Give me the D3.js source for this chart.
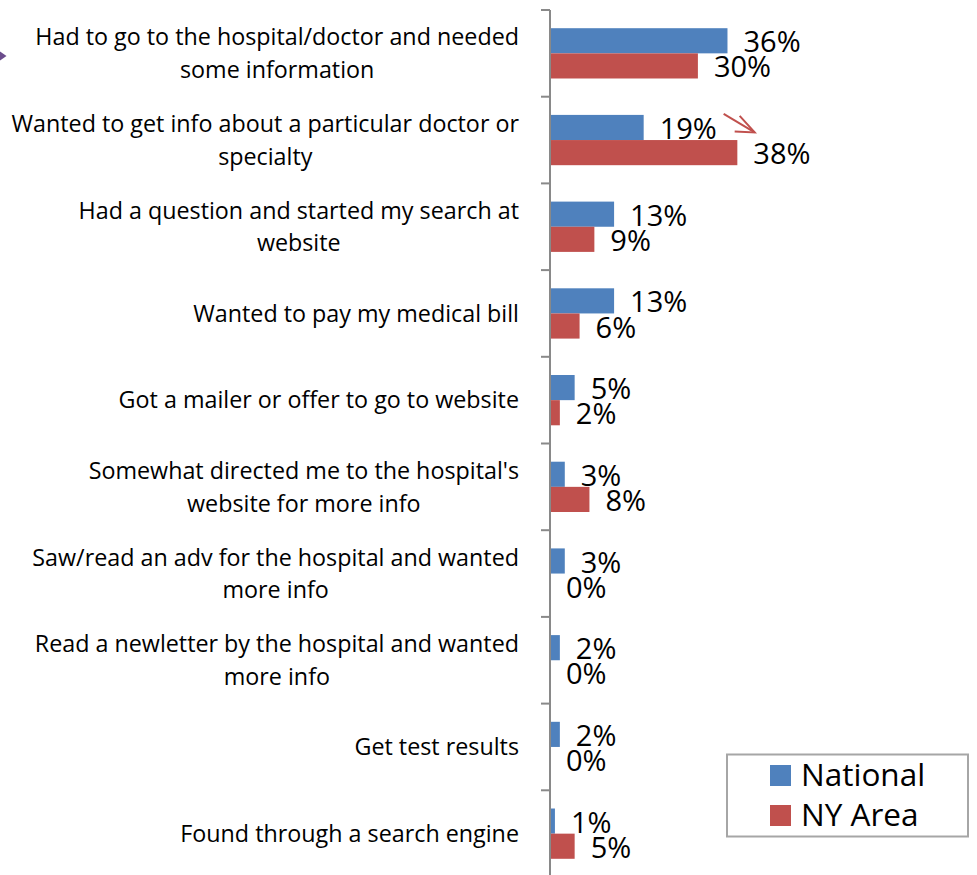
<!DOCTYPE html>
<html>
<head>
<meta charset="utf-8">
<script src="https://cdn.jsdelivr.net/npm/d3@7"></script>
<style>
  body { margin: 0; background: #fff; }
  svg { display: block; font-family: "Open Sans", sans-serif; }
</style>
</head>
<body>
<svg id="chart" width="977" height="875"></svg>
<script>
// categories, top to bottom (line breaks as in the original)
var categories = [
  "Had to go to the hospital/doctor and needed\nsome information",
  "Wanted to get info about a particular doctor or\nspecialty",
  "Had a question and started my search at\nwebsite",
  "Wanted to pay my medical bill",
  "Got a mailer or offer to go to website",
  "Somewhat directed me to the hospital's\nwebsite for more info",
  "Saw/read an adv for the hospital and wanted\nmore info",
  "Read a newletter by the hospital and wanted\nmore info",
  "Get test results",
  "Found through a search engine"
];
var national = [36, 19, 13, 13, 5, 3, 3, 2, 2, 1];
var nyArea   = [30, 38, 9, 6, 2, 8, 0, 0, 0, 5];
var seriesNames = ["National", "NY Area"];
var colors = ["#4f81bd", "#c0504d"];

var svg = d3.select("#chart");

var x = d3.scaleLinear().domain([0, 40]).range([550, 747.2]);
var y = d3.scaleBand()
  .domain(d3.range(categories.length))
  .range([10, 877])
  .paddingInner(0.42)
  .paddingOuter(0.21);
var bh = y.bandwidth() / 2;

// vertical axis with ticks between categories
var axisG = svg.append("g");
axisG.append("line")
  .attr("x1", x(0)).attr("x2", x(0))
  .attr("y1", 10).attr("y2", 877)
  .attr("stroke", "#898989").attr("stroke-width", 2);
var step = y.step();
axisG.selectAll(".tick")
  .data(d3.range(categories.length + 1))
  .enter().append("line")
  .attr("x1", x(0) - 9).attr("x2", x(0))
  .attr("y1", function(i) { return 10 + i * step; })
  .attr("y2", function(i) { return 10 + i * step; })
  .attr("stroke", "#898989").attr("stroke-width", 2);

// category labels: lines centered, block right-aligned
var labelRight = 519;
categories.forEach(function(c, i) {
  var lines = c.split("\n");
  var cy = y(i) + y.bandwidth() / 2;
  var lh = 32.7;
  var g = svg.append("g");
  var texts = lines.map(function(l, j) {
    return g.append("text")
      .attr("y", cy + 8.3 + (j - (lines.length - 1) / 2) * lh)
      .attr("font-size", "23.3px")
      .attr("fill", "#000")
      .attr("text-anchor", "middle")
      .text(l);
  });
  var w = d3.max(texts, function(t) { return t.node().getComputedTextLength(); });
  texts.forEach(function(t) { t.attr("x", labelRight - w / 2); });
});

// bars
var series = [national, nyArea];
series.forEach(function(vals, s) {
  svg.append("g").selectAll("rect")
    .data(vals)
    .enter().append("rect")
    .attr("x", x(0) + 1)
    .attr("y", function(d, i) { return y(i) + s * bh; })
    .attr("width", function(d) { return Math.max(0, x(d) - x(0) - 1); })
    .attr("height", bh)
    .attr("fill", colors[s]);

  svg.append("g").selectAll("text")
    .data(vals)
    .enter().append("text")
    .attr("x", function(d) { return x(d) + 16; })
    .attr("y", function(d, i) { return y(i) + (s + 1) * bh - 1; })
    .attr("font-size", "29px")
    .attr("fill", "#000")
    .text(function(d) { return d + "%"; });
});

// small purple arrowhead at the left edge
svg.append("path")
  .attr("d", "M0,51.5L6.5,56L0,60.5Z")
  .attr("fill", "#6b4c8c");

// red annotation arrow next to the 19% / 38% pair
var ax = x(national[1]) + 80, ay = y(1) - 1;
var arrow = svg.append("g")
  .attr("stroke", "#c0504d").attr("stroke-width", 2).attr("fill", "none");
arrow.append("line")
  .attr("x1", ax).attr("y1", ay)
  .attr("x2", ax + 31).attr("y2", ay + 18.5);
arrow.append("path")
  .attr("d", "M" + (ax + 16) + "," + (ay + 2) + "L" + (ax + 31) + "," + (ay + 18.5) +
             "L" + (ax + 11) + "," + (ay + 17.5));

// legend
var lg = svg.append("g");
lg.append("rect")
  .attr("x", 727).attr("y", 754.5)
  .attr("width", 241).attr("height", 82)
  .attr("fill", "#fff").attr("stroke", "#a6a6a6").attr("stroke-width", 2);
seriesNames.forEach(function(n, i) {
  lg.append("rect")
    .attr("x", 770).attr("y", 765 + i * 40)
    .attr("width", 21).attr("height", 21)
    .attr("fill", colors[i]);
  lg.append("text")
    .attr("x", 801).attr("y", 786 + i * 40)
    .attr("font-size", "31.5px")
    .attr("fill", "#000")
    .text(n);
});
</script>
</body>
</html>
